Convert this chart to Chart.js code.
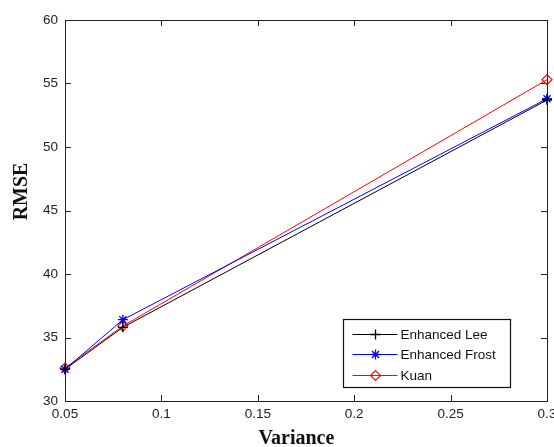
<!DOCTYPE html>
<html>
<head>
<meta charset="utf-8">
<script src="https://cdn.jsdelivr.net/npm/chart.js@4/dist/chart.umd.min.js"></script>
<style>
html,body{margin:0;padding:0;overflow:hidden;background:#fff;width:554px;height:447px;}
#wrap{position:absolute;left:0;top:0;width:570px;height:447px;}
</style>
</head>
<body>
<div id="wrap"><canvas id="c"></canvas></div>
<script>
// ---- data ----
const variance = [0.05, 0.08, 0.3];
const enhancedLee = [32.5, 35.8, 53.7];
const enhancedFrost = [32.5, 36.4, 53.8];
const kuan = [32.6, 35.9, 55.3];
const seriesNames = ['Enhanced Lee', 'Enhanced Frost', 'Kuan'];
const xTitle = 'Variance';
const yTitle = 'RMSE';

const toPts = (vals) => vals.map((v, i) => ({x: variance[i], y: v}));

const tickFont = {family: '"Liberation Sans", Arial, sans-serif', size: 13.5};
const titleFontCss = 'bold 20px "Liberation Serif", "Times New Roman", serif';

const framePlugin = {
  id: 'frame',
  beforeDatasetsDraw(chart) {
    const ctx = chart.ctx, a = chart.chartArea;
    const xs = chart.scales.x, ys = chart.scales.y;
    const L = 6;
    ctx.save();
    ctx.strokeStyle = '#222';
    ctx.lineWidth = 1;
    ctx.beginPath();
    xs.ticks.forEach(t => {
      const px = Math.round(xs.getPixelForValue(t.value)) + 0.5;
      ctx.moveTo(px, a.bottom); ctx.lineTo(px, a.bottom - L);
      ctx.moveTo(px, a.top); ctx.lineTo(px, a.top + L);
    });
    ys.ticks.forEach(t => {
      const py = Math.round(ys.getPixelForValue(t.value)) + 0.5;
      ctx.moveTo(a.left, py); ctx.lineTo(a.left + L, py);
      ctx.moveTo(a.right, py); ctx.lineTo(a.right - L, py);
    });
    ctx.stroke();
    ctx.strokeRect(Math.round(a.left) + 0.5, Math.round(a.top) + 0.5,
                   Math.round(a.right - a.left), Math.round(a.bottom - a.top));
    ctx.restore();
  },
  afterDraw(chart) {
    const ctx = chart.ctx, a = chart.chartArea;
    ctx.save();
    // axis titles
    ctx.fillStyle = '#111';
    ctx.font = titleFontCss;
    ctx.textAlign = 'center';
    ctx.textBaseline = 'alphabetic';
    ctx.fillText(xTitle, a.left + (a.right - a.left) * 0.48, chart.height - 3);
    ctx.save();
    ctx.translate(27, a.top + (a.bottom - a.top) * 0.45);
    ctx.rotate(-Math.PI / 2);
    ctx.fillText(yTitle, 0, 0);
    ctx.restore();

    // legend box
    const w = 167, h = 68;
    const x = Math.round(a.right - 37 - w) + 0.5, y = Math.round(a.bottom - 14 - h) + 0.5;
    ctx.fillStyle = '#fff';
    ctx.fillRect(x, y, w, h);
    ctx.strokeStyle = '#111';
    ctx.lineWidth = 1.2;
    ctx.strokeRect(x, y, w, h);
    ctx.font = '13.5px "Liberation Sans", Arial, sans-serif';
    ctx.textAlign = 'left';
    ctx.textBaseline = 'middle';
    chart.data.datasets.forEach((ds, i) => {
      const cy = Math.round(y + 14 + i * 20.5) + 0.5;
      ctx.strokeStyle = ds.borderColor;
      ctx.lineWidth = 1;
      ctx.beginPath();
      ctx.moveTo(x + 9, cy); ctx.lineTo(x + 54, cy);
      ctx.stroke();
      ctx.fillStyle = ds.pointBackgroundColor;
      ctx.strokeStyle = ds.borderColor;
      ctx.lineWidth = ds.pointBorderWidth;
      Chart.helpers.drawPoint(ctx, {
        pointStyle: ds.pointStyle, radius: ds.pointRadius, rotation: 0,
        borderWidth: ds.pointBorderWidth
      }, x + 32, cy);
      ctx.fillStyle = '#111';
      ctx.fillText(ds.label, x + 57, cy + 1);
    });
    ctx.restore();
  }
};

new Chart(document.getElementById('c'), {
  type: 'line',
  data: {
    datasets: [
      {label: seriesNames[0], data: toPts(enhancedLee), borderColor: '#000000', pointBackgroundColor: '#000000',
       pointStyle: 'cross', pointRadius: 5, pointBorderWidth: 1.3},
      {label: seriesNames[1], data: toPts(enhancedFrost), borderColor: '#0000ff', pointBackgroundColor: '#0000ff',
       pointStyle: 'star', pointRadius: 5, pointBorderWidth: 1.3},
      {label: seriesNames[2], data: toPts(kuan), borderColor: '#ff0000', pointBackgroundColor: 'rgba(255,255,255,0)',
       pointStyle: 'rectRot', pointRadius: 5, pointBorderWidth: 1.2}
    ].map(d => Object.assign({borderWidth: 1, tension: 0, fill: false, clip: false, pointHoverRadius: d.pointRadius}, d))
  },
  options: {
    responsive: true,
    maintainAspectRatio: false,
    animation: false,
    events: [],
    layout: {padding: {left: 0, right: 23, top: 20, bottom: 0}},
    plugins: {legend: {display: false}, tooltip: {enabled: false}},
    scales: {
      x: {
        type: 'linear', min: 0.05, max: 0.3,
        ticks: {stepSize: 0.05, color: '#222', font: tickFont, padding: 5, maxRotation: 0,
                callback: v => String(Number(v.toFixed(2)))},
        grid: {display: true, drawOnChartArea: false, drawTicks: false},
        border: {display: false},
        afterFit(s) { s.height = 46; }
      },
      y: {
        type: 'linear', min: 30, max: 60,
        ticks: {stepSize: 5, color: '#222', font: tickFont, padding: 7},
        grid: {display: true, drawOnChartArea: false, drawTicks: false},
        border: {display: false},
        afterFit(s) { s.width = 65; }
      }
    }
  },
  plugins: [framePlugin]
});
</script>
</body>
</html>
